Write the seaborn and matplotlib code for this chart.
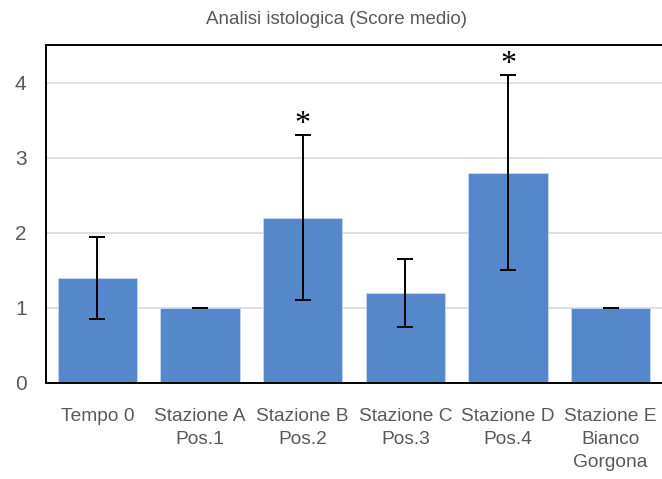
import matplotlib
matplotlib.use("Agg")
import matplotlib.pyplot as plt
import seaborn as sns
import pandas as pd
import numpy as np

# Mean histological score per station, with error half-widths
categories = ["Tempo 0", "Stazione A\nPos.1", "Stazione B\nPos.2", "Stazione C\nPos.3",
              "Stazione D\nPos.4", "Stazione E\nBianco\nGorgona"]
scores = [1.4, 1.0, 2.2, 1.2, 2.8, 1.0]
errors = [0.55, 0.0, 1.1, 0.45, 1.3, 0.0]
significant = [False, False, True, False, True, False]
y_ticks = [0, 1, 2, 3, 4]

sns.set_theme(style="white")
plt.rcParams["font.family"] = ["Liberation Sans", "DejaVu Sans"]

df = pd.DataFrame({"cat": categories, "score": scores})

fig = plt.figure(figsize=(6.62, 4.79), dpi=100)
ax = fig.add_axes([46 / 662, 1 - 383 / 479, 1 - 46 / 662, (383 - 45) / 479])

sns.barplot(data=df, x="cat", y="score", color="#5588CB", saturation=1,
            width=0.77, ax=ax, zorder=2)
for p in ax.patches:
    p.set_edgecolor("#C9D8EE")
    p.set_linewidth(0.6)

x = np.arange(len(categories))
ax.errorbar(x, scores, yerr=errors, fmt="none", ecolor="black",
            elinewidth=1.4, capsize=6, capthick=1.4, zorder=3)

# significance markers above the error bars
for xi, s, e, sig in zip(x, scores, errors, significant):
    if sig:
        ax.text(xi, s + e + 0.14, "*", ha="center", va="center",
                fontsize=23, family="Liberation Serif", color="black")

ax.set_ylim(0, 4.5)
ax.set_xlim(-0.5, len(categories) - 0.5)
ax.set_yticks(y_ticks)
ax.set_yticklabels([str(t) for t in y_ticks])
ax.yaxis.grid(True, color="#D9D9D9", linewidth=1.2, zorder=0)
ax.set_axisbelow(True)

ax.set_xticks(x)
ax.set_xticklabels(categories, linespacing=1.45)
ax.set_xticks(np.arange(-0.5, len(categories)), minor=True)
ax.tick_params(axis="x", which="major", length=0, pad=18, labelsize=13.8, labelcolor="#595959")
ax.tick_params(axis="x", which="minor", length=6, width=1.4, color="black", direction="out")
ax.tick_params(axis="y", which="major", length=6, width=1.4, color="black", direction="out",
               labelsize=15, labelcolor="#595959", pad=8)
ax.set_xlabel("")
ax.set_ylabel("")

for side in ["left", "bottom", "top"]:
    ax.spines[side].set_color("black")
    ax.spines[side].set_linewidth(1.4)
ax.spines["right"].set_visible(False)

fig.text(336 / 662, 1 - 20 / 479, "Analisi istologica (Score medio)", ha="center",
         va="center", fontsize=13.5, color="#595959")

fig.savefig("out.png", dpi=100)
